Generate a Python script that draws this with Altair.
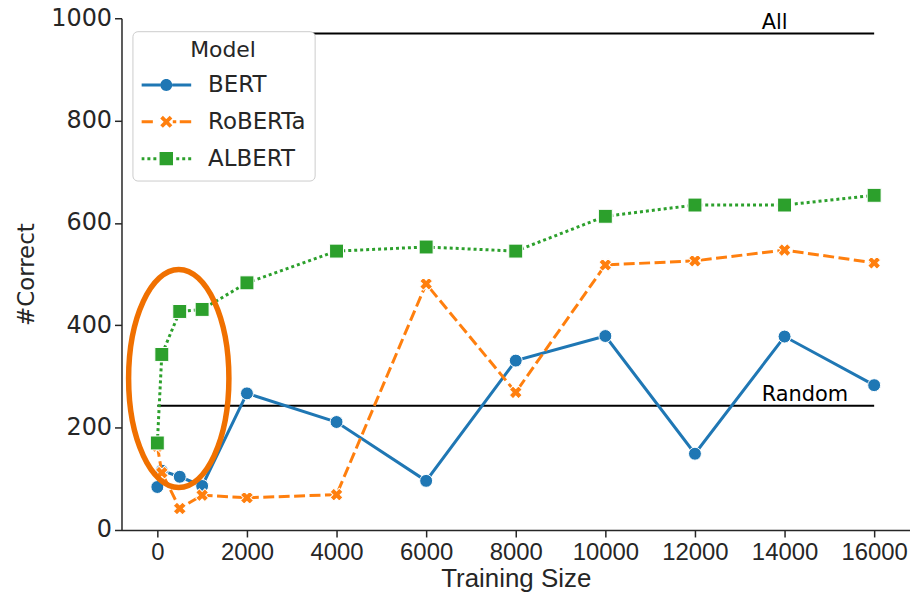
import altair as alt
import pandas as pd

# ---- data ----
sizes = [0, 100, 500, 1000, 2000, 4000, 6000, 8000, 10000, 12000, 14000, 16000]
bert = [84, 116, 104, 86, 267, 211, 96, 331, 379, 149, 378, 283]
roberta = [164, 112, 42, 68, 63, 69, 481, 269, 518, 526, 547, 522]
albert = [170, 343, 427, 431, 483, 545, 553, 545, 613, 635, 635, 654]
models = ["BERT", "RoBERTa", "ALBERT"]
colors = ["#1f77b4", "#ff7f0e", "#2ca02c"]

ref_labels = ["All", "Random"]
ref_values = [970, 243]
ref_start = [0, 0]
ref_end = [16000, 16000]
ref_text_x = [13490, 13490]

ellipse_x = [478]
ellipse_y = [296]

x_ticks = [0, 2000, 4000, 6000, 8000, 10000, 12000, 14000, 16000]
y_ticks = [0, 200, 400, 600, 800, 1000]

# ---- legend symbol paths (line + marker), unit box [-1, 1] ----
def rect(x0, x1, h0, h1=None):
    if h1 is None:
        h1 = h0
    return f"M{x0},{-h0}H{x1}V{h1}H{x0}Z"

def circle(r):
    return f"M{-r},0A{r},{r} 0 1,0 {r},0A{r},{r} 0 1,0 {-r},0Z"

def xmark(e, h):
    d = h / 2 ** 0.5
    p1 = f"M{-e-d},{-e+d}L{e-d},{e+d}L{e+d},{e-d}L{-e+d},{-e-d}Z"
    p2 = f"M{-e+d},{e+d}L{e+d},{-e+d}L{e-d},{-e-d}L{-e-d},{e-d}Z"
    return p1 + p2

lh = 0.06
bert_path = rect(-1, -0.24, lh) + rect(0.24, 1, lh) + circle(0.24)
roberta_path = (rect(-1, -0.54, lh) + rect(0.26, 0.4, lh) + rect(0.54, 1, lh)
                + xmark(0.19, 0.075))
albert_path = "".join(rect(c - 0.06, c + 0.06, lh) for c in [-0.94, -0.7, -0.46, 0.46, 0.7, 0.94]) \
    + rect(-0.27, 0.27, 0.27)
legend_paths = [bert_path, roberta_path, albert_path]

ellipse_path = "M-0.46,0A0.46,1 0 1,0 0.46,0A0.46,1 0 1,0 -0.46,0Z"

# ---- tables ----
df = pd.DataFrame({
    "size": sizes * 3,
    "correct": bert + roberta + albert,
    "model": [m for m in models for _ in sizes],
})
ref_df = pd.DataFrame({"label": ref_labels, "correct": ref_values,
                       "size": ref_start, "size2": ref_end})
txt_df = pd.DataFrame({"label": ref_labels, "correct": ref_values, "size": ref_text_x})
ell_df = pd.DataFrame({"size": ellipse_x, "correct": ellipse_y})

TXT = "#262626"
x_scale = alt.Scale(domain=[-800, 16800], nice=False, zero=False)
y_scale = alt.Scale(domain=[0, 1000], nice=False, zero=False)

x_axis = alt.Axis(values=x_ticks, format="d", title="Training Size",
                  labelFont="Liberation Sans", labelFontSize=24, labelPadding=4,
                  labelColor=TXT, tickSize=7, tickWidth=1.5, tickColor=TXT,
                  domainColor=TXT, domainWidth=1.5, grid=False,
                  titleFont="Liberation Sans", titleFontSize=26, titleFontWeight="normal",
                  titleColor=TXT, titleY=57, titleBaseline="alphabetic")
y_axis = alt.Axis(values=y_ticks, format="d", title="#Correct",
                  labelFont="DejaVu Sans", labelFontSize=24, labelPadding=3,
                  labelColor=TXT, tickSize=7, tickWidth=1.5, tickColor=TXT,
                  domainColor=TXT, domainWidth=1.5, grid=False,
                  titleFont="DejaVu Sans", titleFontSize=23, titleFontWeight="normal",
                  titleColor=TXT, titleX=-95, titleY=257, titleAngle=270,
                  titleAlign="center", titleBaseline="middle")

X = alt.X("size:Q", scale=x_scale, axis=x_axis)
Y = alt.Y("correct:Q", scale=y_scale, axis=y_axis)

layers = []

# reference lines
layers.append(alt.Chart(ref_df).mark_rule(color="black", strokeWidth=2).encode(
    x=X, x2="size2:Q", y=Y))
layers.append(alt.Chart(txt_df).mark_text(align="left", baseline="alphabetic", dy=-5,
                                          font="DejaVu Sans", fontSize=21, color="black").encode(
    x=X, y=Y, text="label:N"))

dashes = {"BERT": [1, 0], "RoBERTa": [11, 4.5], "ALBERT": [3, 3]}
shapes = {"BERT": ("circle", 169, 0), "RoBERTa": ("cross", 170, 45), "ALBERT": ("square", 196, 0)}

for m, c in zip(models, colors):
    base = alt.Chart(df).transform_filter(alt.datum.model == m)
    line_kwargs = dict(color=c, strokeWidth=3)
    if m != "BERT":
        line_kwargs["strokeDash"] = dashes[m]
    layers.append(base.mark_line(**line_kwargs).encode(x=X, y=Y))
    shp, sz, ang = shapes[m]
    layers.append(base.mark_point(shape=shp, size=sz, angle=ang, filled=True, color=c,
                                  stroke="white", strokeWidth=1, opacity=1).encode(x=X, y=Y))

# annotation ellipse
layers.append(alt.Chart(ell_df).mark_point(shape=ellipse_path, size=47961, filled=False,
                                           color="#f07000", strokeWidth=5.5, opacity=1).encode(x=X, y=Y))

# legend layer (no visible marks, only drives the legend)
legend = alt.Legend(orient="none", legendX=11, legendY=13, title="Model",
                    titleAnchor="middle", titleFont="DejaVu Sans", titleFontSize=22,
                    titleFontWeight="normal", titleColor=TXT, titlePadding=10,
                    labelFont="DejaVu Sans", labelFontSize=23, labelColor=TXT,
                    labelOffset=17, symbolSize=2500, symbolStrokeWidth=0,
                    clipHeight=26, rowPadding=11, padding=9,
                    strokeColor="#cccccc", fillColor="white", cornerRadius=5)
layers.append(alt.Chart(df).transform_filter("datum.size < -100000").mark_point(
    filled=True, size=2500, opacity=1).encode(
    x=X, y=Y,
    color=alt.Color("model:N", scale=alt.Scale(domain=models, range=colors), legend=legend),
    shape=alt.Shape("model:N", scale=alt.Scale(domain=models, range=legend_paths), legend=legend),
))

chart = alt.layer(*layers).properties(
    width=792, height=514,
    autosize=alt.AutoSizeParams(type="none"),
    padding={"left": 114, "top": 9, "right": 0, "bottom": 65},
    background="white",
).configure_view(stroke=None)

chart.save("out.html", embed_options={"renderer": "svg", "actions": False})
